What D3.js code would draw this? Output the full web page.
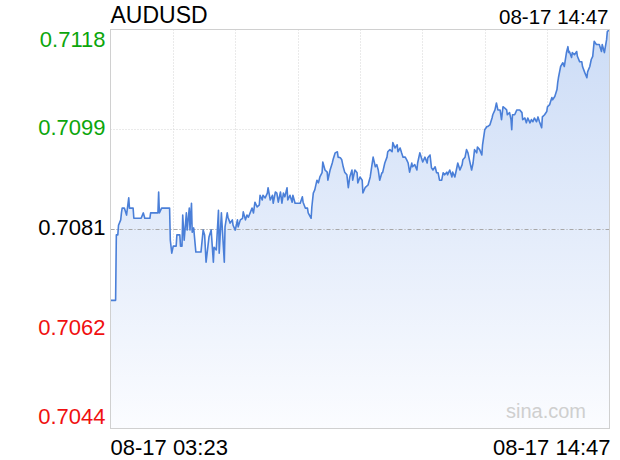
<!DOCTYPE html>
<html>
<head>
<meta charset="utf-8">
<script src="https://cdn.jsdelivr.net/npm/d3@7"></script>
<style>
	body { margin: 0; background: #fff; }
	text { font-family: "Liberation Sans", Arial, sans-serif; }
</style>
</head>
<body>
<div id="chart"></div>
<script>
// symbol and time labels
var symbol = "AUDUSD";
var startLabel = "08-17 03:23";
var endLabel = "08-17 14:47";
var sessionMinutes = 684;

// price range shown on the axis, previous close in the middle
var priceRange = [0.70436, 0.71180];
var prevClose = 0.70808;
var tickLabels = ["0.7118", "0.7099", "0.7081", "0.7062", "0.7044"];
var tickColors = ["#0ca60c", "#0ca60c", "#000", "#f01010", "#f01010"];

// minutes after 03:23 and price at that minute
var minutes = [0,7,8,10,11,14,15,16,19,22,25,26,31,32,42,45,47,54,55,65,66,67,70,81,82,84,86,90,91,95,96,98,99,101,104,105,108,109,111,112,114,117,124,127,129,131,135,138,141,142,145,148,149,152,155,156,157,160,161,164,167,168,171,174,175,178,181,182,185,187,189,194,196,198,201,204,205,208,209,212,215,216,219,222,223,226,228,230,233,235,237,239,242,243,246,249,250,253,256,260,263,264,267,270,271,275,276,278,280,283,285,287,290,291,294,297,298,301,304,305,308,311,312,315,317,319,321,324,326,328,331,332,335,338,339,342,345,346,349,353,356,358,360,363,365,367,369,372,373,376,379,380,383,386,387,390,393,394,397,399,401,404,406,408,410,413,414,417,420,421,424,427,428,431,434,435,438,440,442,445,447,449,451,454,456,458,461,462,465,468,469,472,475,476,479,482,483,486,488,490,492,495,497,499,502,503,506,509,510,513,516,517,520,523,524,527,529,531,534,536,538,540,543,544,547,549,550,551,554,557,561,564,565,568,570,572,575,577,579,581,584,586,588,591,592,595,598,599,602,605,606,609,612,613,614,617,620,622,625,627,628,629,632,633,636,639,640,643,646,647,650,653,654,657,659,661,663,666,668,670,673,674,677,680,681,684];
var prices = [0.70675,0.70675,0.70797,0.70797,0.70815,0.70825,0.70838,0.70847,0.70847,0.70834,0.70866,0.70847,0.70847,0.70828,0.70828,0.70838,0.70828,0.70828,0.70838,0.70838,0.70877,0.70838,0.70847,0.70847,0.70787,0.70763,0.70776,0.70776,0.70797,0.70797,0.70776,0.70776,0.70834,0.70787,0.70838,0.70806,0.70847,0.70806,0.70856,0.70802,0.70810,0.70765,0.70765,0.70806,0.70797,0.70746,0.70793,0.70806,0.70746,0.70774,0.70769,0.70843,0.70763,0.70838,0.70769,0.70746,0.70812,0.70838,0.70830,0.70819,0.70825,0.70815,0.70806,0.70825,0.70812,0.70825,0.70828,0.70840,0.70825,0.70834,0.70830,0.70847,0.70838,0.70858,0.70849,0.70853,0.70871,0.70862,0.70871,0.70866,0.70875,0.70885,0.70862,0.70871,0.70856,0.70877,0.70875,0.70858,0.70877,0.70856,0.70875,0.70868,0.70885,0.70862,0.70871,0.70858,0.70871,0.70856,0.70856,0.70856,0.70868,0.70858,0.70847,0.70847,0.70838,0.70828,0.70849,0.70875,0.70881,0.70899,0.70894,0.70905,0.70913,0.70933,0.70918,0.70914,0.70899,0.70918,0.70931,0.70937,0.70950,0.70952,0.70942,0.70941,0.70937,0.70924,0.70914,0.70909,0.70885,0.70905,0.70918,0.70899,0.70918,0.70913,0.70894,0.70905,0.70899,0.70875,0.70885,0.70890,0.70905,0.70924,0.70942,0.70924,0.70928,0.70918,0.70899,0.70913,0.70913,0.70931,0.70942,0.70952,0.70956,0.70952,0.70969,0.70959,0.70965,0.70952,0.70959,0.70950,0.70942,0.70942,0.70937,0.70931,0.70914,0.70931,0.70924,0.70928,0.70918,0.70931,0.70950,0.70937,0.70933,0.70942,0.70931,0.70941,0.70946,0.70922,0.70918,0.70924,0.70913,0.70913,0.70899,0.70899,0.70913,0.70909,0.70914,0.70909,0.70918,0.70905,0.70914,0.70905,0.70924,0.70931,0.70918,0.70928,0.70937,0.70942,0.70956,0.70950,0.70937,0.70918,0.70931,0.70956,0.70950,0.70961,0.70956,0.70946,0.70965,0.70993,0.70999,0.70999,0.71002,0.71015,0.71021,0.71030,0.71043,0.71030,0.71030,0.71012,0.71036,0.71034,0.71030,0.71021,0.71025,0.71012,0.70993,0.71021,0.71021,0.71030,0.71030,0.71025,0.71012,0.71015,0.71006,0.71015,0.71006,0.71012,0.71008,0.71015,0.71008,0.71017,0.71008,0.70997,0.71017,0.71021,0.71027,0.71036,0.71040,0.71053,0.71049,0.71055,0.71068,0.71081,0.71090,0.71111,0.71118,0.71111,0.71137,0.71148,0.71137,0.71139,0.71128,0.71137,0.71133,0.71139,0.71130,0.71120,0.71120,0.71111,0.71100,0.71090,0.71101,0.71111,0.71124,0.71130,0.71158,0.71152,0.71152,0.71152,0.71139,0.71152,0.71137,0.71161,0.71176,0.71180];

var width = 620, height = 460;
var margin = {top: 29.5, right: 10.5, bottom: 31.5, left: 110.5};
var plotW = width - margin.left - margin.right,
	plotH = height - margin.top - margin.bottom;

var svg = d3.select("#chart")
  .append("svg")
	.attr("width", width)
	.attr("height", height);

var x = d3.scaleLinear()
	.domain([0, sessionMinutes])
	.range([margin.left, margin.left + plotW]);

var y = d3.scaleLinear()
	.domain(priceRange)
	.range([margin.top + plotH, margin.top]);

var data = minutes.map(function(m, i){ return {m: m, p: prices[i]}; });

// gradient under the line
var grad = svg.append("defs").append("linearGradient")
	.attr("id", "fill")
	.attr("gradientUnits", "userSpaceOnUse")
	.attr("x1", 0).attr("x2", 0)
	.attr("y1", margin.top).attr("y2", margin.top + plotH);
grad.append("stop").attr("offset", "0%").attr("stop-color", "#ccdcf6");
grad.append("stop").attr("offset", "100%").attr("stop-color", "#fbfcff");

// vertical grid, 8 columns
var vTicks = d3.range(1, 8).map(function(i){ return i * sessionMinutes / 8; });
svg.append("g")
	.selectAll("line")
	.data(vTicks)
	.join("line")
	.attr("x1", function(d){ return Math.round(x(d)) + 0.5; })
	.attr("x2", function(d){ return Math.round(x(d)) + 0.5; })
	.attr("y1", margin.top)
	.attr("y2", margin.top + plotH)
	.style("stroke", "#d4d4d4")
	.style("stroke-dasharray", "1,2");

// horizontal grid at the tick prices
var tickValues = tickLabels.map(function(d, i){
	return priceRange[1] - i * (priceRange[1] - priceRange[0]) / (tickLabels.length - 1);
});

svg.append("g")
	.selectAll("line")
	.data(tickValues.slice(1, -1))
	.join("line")
	.attr("x1", margin.left)
	.attr("x2", margin.left + plotW)
	.attr("y1", function(d){ return Math.round(y(d)) + 0.5; })
	.attr("y2", function(d){ return Math.round(y(d)) + 0.5; })
	.style("stroke", "#d4d4d4")
	.style("stroke-dasharray", "1,2");

// area + line
var area = d3.area()
	.x(function(d){ return x(d.m); })
	.y0(margin.top + plotH)
	.y1(function(d){ return y(d.p); });

svg.append("path")
	.datum(data)
	.attr("d", area)
	.style("fill", "url(#fill)");

// previous close
svg.append("line")
	.attr("x1", margin.left)
	.attr("x2", margin.left + plotW)
	.attr("y1", Math.round(y(prevClose)) + 0.5)
	.attr("y2", Math.round(y(prevClose)) + 0.5)
	.style("stroke", "#a8a8a8")
	.style("stroke-dasharray", "4,2,1,2");

var line = d3.line()
	.x(function(d){ return x(d.m); })
	.y(function(d){ return y(d.p); });

svg.append("path")
	.datum(data)
	.attr("d", line)
	.style("fill", "none")
	.style("stroke", "#4a7fd8")
	.style("stroke-width", 1.6)
	.style("stroke-linejoin", "round");

// frame
svg.append("rect")
	.attr("x", margin.left)
	.attr("y", margin.top)
	.attr("width", plotW)
	.attr("height", plotH)
	.style("fill", "none")
	.style("stroke", "#d0d0d0");

// price labels
svg.append("g")
	.selectAll("text")
	.data(tickValues)
	.join("text")
	.attr("x", margin.left - 5)
	.attr("y", function(d, i){
		if (i == 0) return y(d) + 17;
		if (i == tickValues.length - 1) return y(d) - 5;
		return y(d) + 6;
	})
	.attr("text-anchor", "end")
	.style("font-size", "22px")
	.style("fill", function(d, i){ return tickColors[i]; })
	.text(function(d, i){ return tickLabels[i]; });

// titles
svg.append("text")
	.attr("x", margin.left)
	.attr("y", 23)
	.style("font-size", "23px")
	.text(symbol);

svg.append("text")
	.attr("x", margin.left + plotW - 1)
	.attr("y", 24)
	.attr("text-anchor", "end")
	.style("font-size", "20.5px")
	.text(endLabel);

svg.append("text")
	.attr("x", margin.left)
	.attr("y", 455)
	.style("font-size", "22px")
	.text(startLabel);

svg.append("text")
	.attr("x", margin.left + plotW + 1)
	.attr("y", 455)
	.attr("text-anchor", "end")
	.style("font-size", "22px")
	.text(endLabel);

// watermark
svg.append("text")
	.attr("x", 586)
	.attr("y", 418)
	.attr("text-anchor", "end")
	.style("font-size", "20px")
	.style("fill", "#cfcfcf")
	.text("sina.com");
</script>
</body>
</html>
